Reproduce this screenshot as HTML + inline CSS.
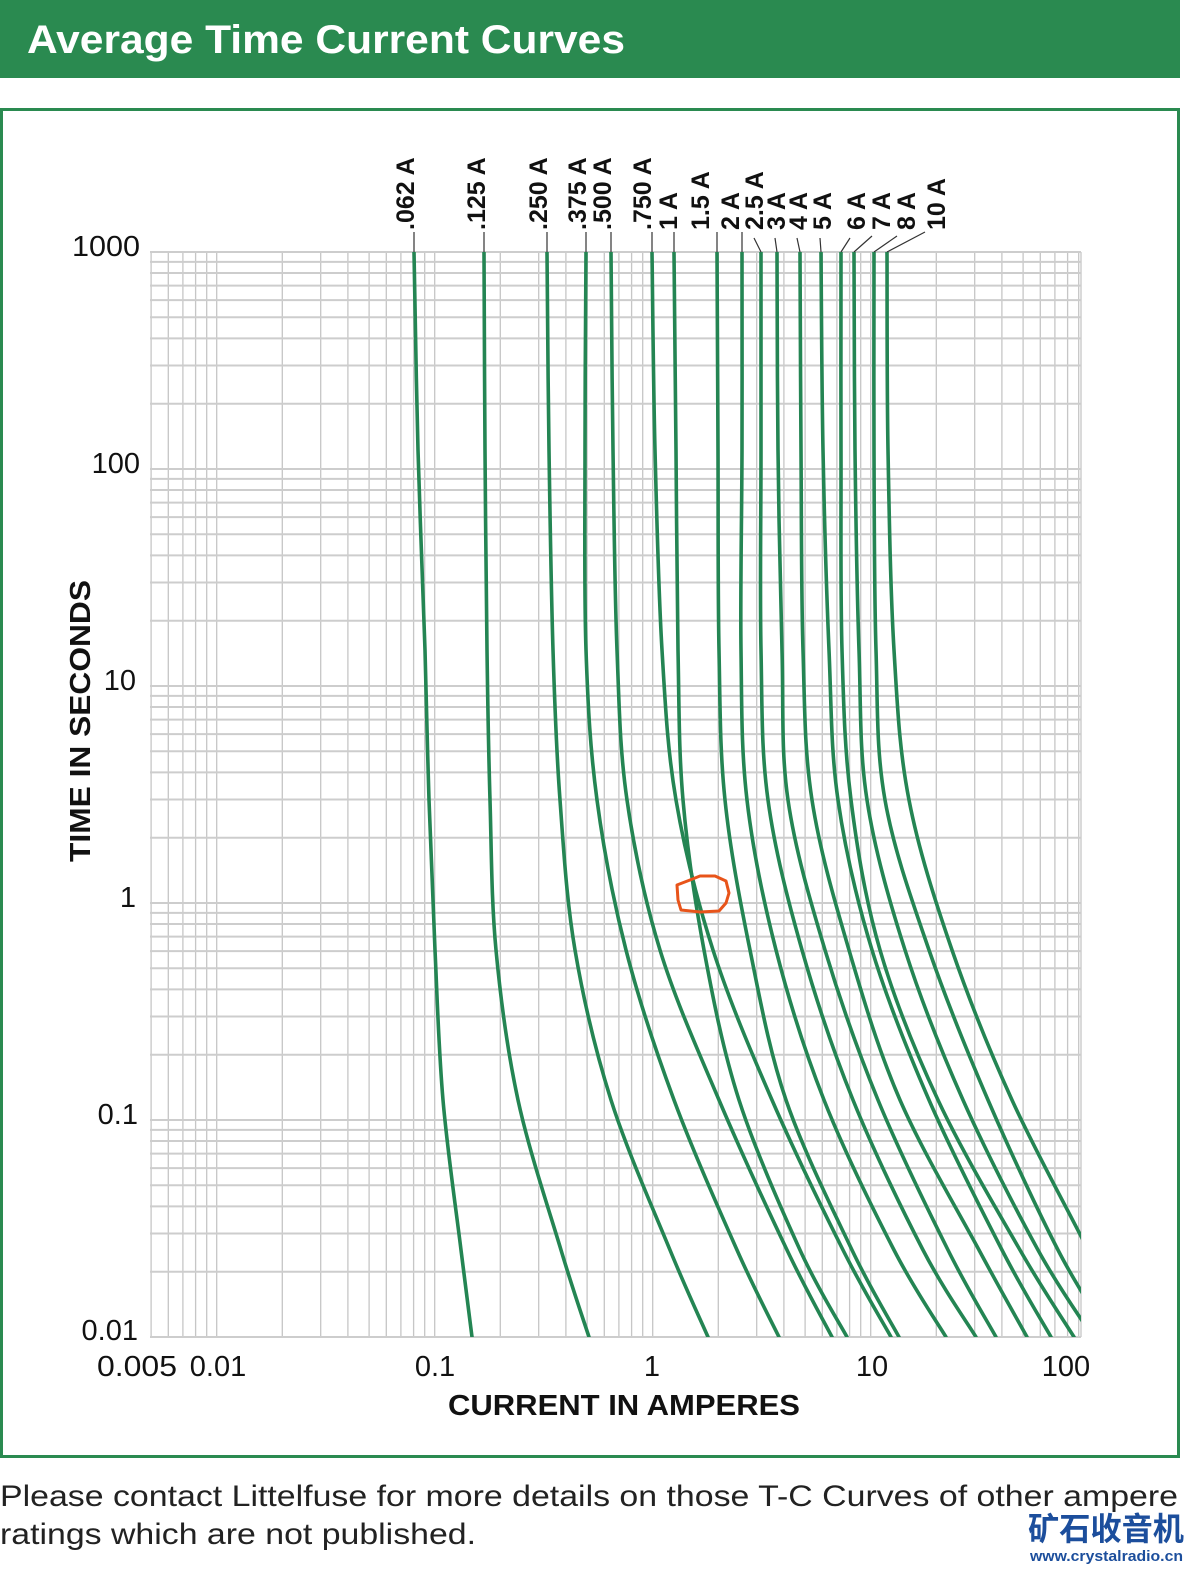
<!DOCTYPE html>
<html><head><meta charset="utf-8"><style>
html,body{margin:0;padding:0;background:#fff;}
svg{display:block;}
</style></head><body>
<svg id="s" width="1203" height="1581" viewBox="0 0 1203 1581" xmlns="http://www.w3.org/2000/svg">
<defs><clipPath id="pc"><rect x="150" y="252" width="931" height="1085"/></clipPath></defs>
<rect x="0" y="0" width="1180" height="78" fill="#2a8a50"/>
<text x="27" y="53" fill="#fff" font-family="Liberation Sans, sans-serif" font-weight="bold" font-size="40" textLength="598" lengthAdjust="spacingAndGlyphs">Average Time Current Curves</text>
<rect x="1.5" y="109.5" width="1177" height="1347" fill="none" stroke="#2a8a50" stroke-width="3"/>

<g stroke="#c6c6c6" stroke-width="1.3" fill="none">
<path d="M151.1 252V1337M168.3 252V1337M182.9 252V1337M195.6 252V1337M206.7 252V1337M216.7 252V1337M282.3 252V1337M320.7 252V1337M347.9 252V1337M369.1 252V1337M386.3 252V1337M400.9 252V1337M413.6 252V1337M424.7 252V1337M434.7 252V1337M500.3 252V1337M538.7 252V1337M565.9 252V1337M587.1 252V1337M604.3 252V1337M618.9 252V1337M631.6 252V1337M642.7 252V1337M652.7 252V1337M718.3 252V1337M756.7 252V1337M783.9 252V1337M805.1 252V1337M822.3 252V1337M836.9 252V1337M849.6 252V1337M860.7 252V1337M870.7 252V1337M936.3 252V1337M974.7 252V1337M1001.9 252V1337M1023.1 252V1337M1040.3 252V1337M1054.9 252V1337M1067.6 252V1337M1078.7 252V1337M1081 252V1337"/>
</g>
<g stroke="#cdcdcd" stroke-width="2" fill="none">
<path d="M150 252H1081M150 261.9H1081M150 273H1081M150 285.6H1081M150 300.1H1081M150 317.3H1081M150 338.4H1081M150 365.5H1081M150 403.7H1081M150 469H1081M150 478.9H1081M150 490H1081M150 502.6H1081M150 517.1H1081M150 534.3H1081M150 555.4H1081M150 582.5H1081M150 620.7H1081M150 686H1081M150 695.9H1081M150 707H1081M150 719.6H1081M150 734.1H1081M150 751.3H1081M150 772.4H1081M150 799.5H1081M150 837.7H1081M150 903H1081M150 912.9H1081M150 924H1081M150 936.6H1081M150 951.1H1081M150 968.3H1081M150 989.4H1081M150 1016.5H1081M150 1054.7H1081M150 1120H1081M150 1129.9H1081M150 1141H1081M150 1153.6H1081M150 1168.1H1081M150 1185.3H1081M150 1206.4H1081M150 1233.5H1081M150 1271.7H1081M150 1337H1081"/>
</g>

<g id="curves" clip-path="url(#pc)" stroke="#248553" stroke-width="3.6" fill="none" stroke-linejoin="round" stroke-linecap="round">
<polyline points="414,252 418,450 425,650 429,800 435,950 443,1100 461,1250 472,1337"/>
<polyline points="484,252 485,450 487,650 490,800 496,950 518,1100 561,1250 589,1337"/>
<polyline points="547,252 549,450 553,650 560,800 575,950 611,1100 670,1250 708,1337"/>
<polyline points="586,252 585,450 586,650 597,800 626,950 674,1100 737,1250 779,1337"/>
<polyline points="611,252 613,450 617,650 627,800 660,950 719,1100 787,1250 832,1337"/>
<polyline points="652,252 655,450 662,650 676,800 713,950 772,1100 843,1250 891,1337"/>
<polyline points="674,252 676,450 678,650 683,800 704,950 739,1100 800,1250 847,1337"/>
<polyline points="717,252 718,450 719,650 725,800 750,950 786,1100 852,1250 899,1337"/>
<polyline points="742,252 742,450 741,650 747,800 776,950 824,1100 894,1250 946,1337"/>
<polyline points="761,252 761,450 761,650 768,800 802,950 853,1100 923,1250 976,1337"/>
<polyline points="777,252 778,450 782,650 788,800 825,950 878,1100 948,1250 996,1337"/>
<polyline points="800,252 801,450 803,650 812,800 849,950 900,1100 979,1250 1027,1337"/>
<polyline points="821,252 823,450 829,650 838,800 872,950 929,1100 1002,1250 1051,1337"/>
<polyline points="841,252 841,450 842,650 851,800 880,950 938,1100 1020,1250 1074,1337"/>
<polyline points="854,252 855,450 859,650 867,800 905,950 963,1100 1038,1250 1093,1337"/>
<polyline points="874,252 874,450 876,650 885,800 929,950 988,1100 1058,1250 1110,1337"/>
<polyline points="887,252 888,450 894,650 909,800 952,950 1012,1100 1088,1250 1130,1337"/>
</g>

<path d="M677,885 L690,880 L700,876 L715,876 L726,881 L729,893 L726,903 L719,911 L700,912 L681,910 L678,900 Z" fill="none" stroke="#e8541a" stroke-width="3" stroke-linejoin="round"/>

<g stroke="#333" stroke-width="1.2" fill="none">
<path d="M414 232V252M484 232V252M547 232V252M586 232V252M611 232V252M652 232V252M674 232V252M717 232V252M742 232V252M754 238L761 252M775 238L777 252M797 238L800 252M820 238L821 252M850 238L841 252M872 236L854 252M897 236L874 252M925 232L887 252"/>
</g>
<g font-family="Liberation Sans, sans-serif" font-weight="bold" font-size="25" fill="#111">
<text transform="translate(414,230) rotate(-90)">.062 A</text>
<text transform="translate(485,230) rotate(-90)">.125 A</text>
<text transform="translate(547,230) rotate(-90)">.250 A</text>
<text transform="translate(586,230) rotate(-90)">.375 A</text>
<text transform="translate(611,230) rotate(-90)">.500 A</text>
<text transform="translate(651,230) rotate(-90)">.750 A</text>
<text transform="translate(677,230) rotate(-90)">1 A</text>
<text transform="translate(709,230) rotate(-90)">1.5 A</text>
<text transform="translate(739,230) rotate(-90)">2 A</text>
<text transform="translate(763,230) rotate(-90)">2.5 A</text>
<text transform="translate(785,230) rotate(-90)">3 A</text>
<text transform="translate(807,230) rotate(-90)">4 A</text>
<text transform="translate(831,230) rotate(-90)">5 A</text>
<text transform="translate(865,230) rotate(-90)">6 A</text>
<text transform="translate(890,230) rotate(-90)">7 A</text>
<text transform="translate(915,230) rotate(-90)">8 A</text>
<text transform="translate(945,230) rotate(-90)">10 A</text>
</g>

<g font-family="Liberation Sans, sans-serif" font-size="29" fill="#111">
<g text-anchor="end">
<text x="140" y="256" textLength="68" lengthAdjust="spacingAndGlyphs">1000</text>
<text x="140" y="473">100</text>
<text x="136" y="690">10</text>
<text x="136" y="907">1</text>
<text x="138" y="1124">0.1</text>
<text x="138" y="1340">0.01</text>
</g>
<g text-anchor="middle">
<text x="137" y="1376" textLength="80" lengthAdjust="spacingAndGlyphs">0.005</text>
<text x="218" y="1376">0.01</text>
<text x="435" y="1376">0.1</text>
<text x="652" y="1376">1</text>
<text x="872" y="1376">10</text>
<text x="1066" y="1376">100</text>
</g>
</g>
<text x="624" y="1415" text-anchor="middle" font-family="Liberation Sans, sans-serif" font-weight="bold" font-size="29" fill="#111" textLength="352" lengthAdjust="spacingAndGlyphs">CURRENT IN AMPERES</text>
<text transform="translate(90,721) rotate(-90)" text-anchor="middle" font-family="Liberation Sans, sans-serif" font-weight="bold" font-size="29" fill="#111" textLength="282" lengthAdjust="spacingAndGlyphs">TIME IN SECONDS</text>

<g font-family="Liberation Sans, sans-serif" font-size="30" fill="#222">
<text x="0" y="1506" textLength="1178" lengthAdjust="spacingAndGlyphs">Please contact Littelfuse for more details on those T-C Curves of other ampere</text>
<text x="0" y="1544" textLength="476" lengthAdjust="spacingAndGlyphs">ratings which are not published.</text>
</g>
<text x="1028" y="1540" font-family="Liberation Sans, 'Noto Sans CJK SC', sans-serif" font-weight="bold" font-size="32" fill="#1c4e9c" textLength="156" lengthAdjust="spacingAndGlyphs">矿石收音机</text>
<text x="1030" y="1561" font-family="Liberation Sans, sans-serif" font-weight="bold" font-size="15" fill="#1c4e9c" textLength="153" lengthAdjust="spacingAndGlyphs">www.crystalradio.cn</text>
</svg>
<script>
(function(){
var g=document.getElementById('curves');
var pls=Array.prototype.slice.call(g.getElementsByTagName('polyline'));
pls.forEach(function(pl){
var p=pl.getAttribute('points').trim().split(/\s+/).map(function(s){var a=s.split(',');return [+a[0],+a[1]];});
var d='M'+p[0][0]+' '+p[0][1];
for(var i=0;i<p.length-1;i++){
var p0=p[i-1]||p[i],p1=p[i],p2=p[i+1],p3=p[i+2]||p2;
var c1=[p1[0]+(p2[0]-p0[0])/6,p1[1]+(p2[1]-p0[1])/6];
var c2=[p2[0]-(p3[0]-p1[0])/6,p2[1]-(p3[1]-p1[1])/6];
d+=' C'+c1[0].toFixed(1)+' '+c1[1].toFixed(1)+' '+c2[0].toFixed(1)+' '+c2[1].toFixed(1)+' '+p2[0]+' '+p2[1];
}
var path=document.createElementNS('http://www.w3.org/2000/svg','path');
path.setAttribute('d',d);
g.replaceChild(path,pl);
});
})();
</script>
</body></html>
